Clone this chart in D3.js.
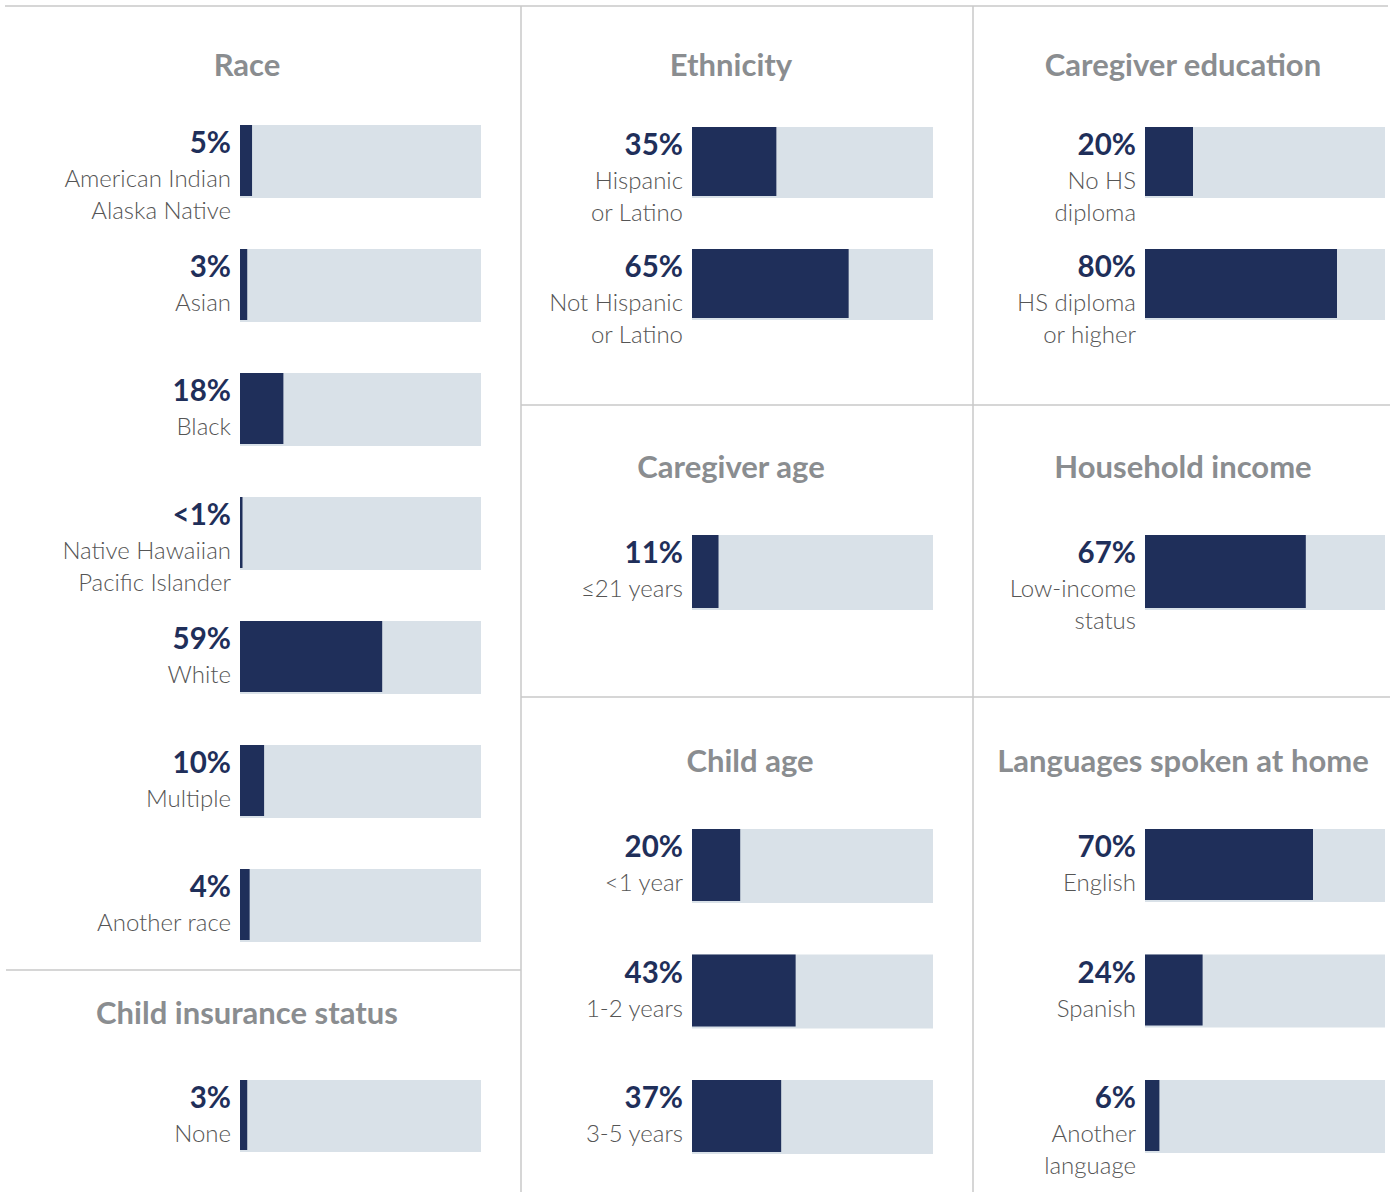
<!DOCTYPE html>
<html>
<head>
<meta charset="utf-8">
<script src="https://cdn.jsdelivr.net/npm/d3@7"></script>
<style>
  html, body { margin: 0; padding: 0; background: #fff; }
  svg { display: block; font-family: Lato, "Open Sans", sans-serif; }
  .title { fill: #8a8d90; font-size: 31px; font-weight: 700; text-anchor: middle; }
  .value { fill: #1f2f5a; font-size: 29.5px; font-weight: 700; text-anchor: end; }
  .label { fill: #555; font-size: 24px; font-weight: 300; text-anchor: end; }
  .track { fill: #d9e1e8; }
  .bar { fill: #1f2f5a; }
  .rule { stroke: #c8c8c8; stroke-width: 1.5; }
</style>
</head>
<body>
<svg width="1391" height="1192"></svg>
<script>
// --- Data: one set of arrays per panel ---
const raceCats = ["American Indian|Alaska Native", "Asian", "Black", "Native Hawaiian|Pacific Islander", "White", "Multiple", "Another race"];
const raceVals = [5, 3, 18, 0.8, 59, 10, 4];

const ethnicityCats = ["Hispanic|or Latino", "Not Hispanic|or Latino"];
const ethnicityVals = [35, 65];

const educationCats = ["No HS|diploma", "HS diploma|or higher"];
const educationVals = [20, 80];

const cgAgeCats = ["≤21 years"];
const cgAgeVals = [11];

const incomeCats = ["Low-income|status"];
const incomeVals = [67];

const childAgeCats = ["<1 year", "1-2 years", "3-5 years"];
const childAgeVals = [20, 43, 37];

const languageCats = ["English", "Spanish", "Another|language"];
const languageVals = [70, 24, 6];

const insuranceCats = ["None"];
const insuranceVals = [3];

// --- Layout (positions only, kept apart from the data) ---
const COLS = {
  left:  { bar0: 240, bar1: 481, titleX: 247 },
  mid:   { bar0: 692, bar1: 933, titleX: 731 },
  right: { bar0: 1145, bar1: 1385, titleX: 1183 }
};

const panels = [
  { title: "Race", cats: raceCats, vals: raceVals, col: "left", titleY: 76, top: 125, step: 124, h: 73 },
  { title: "Ethnicity", cats: ethnicityCats, vals: ethnicityVals, col: "mid", titleY: 76, top: 127, step: 122, h: 71 },
  { title: "Caregiver education", cats: educationCats, vals: educationVals, col: "right", titleY: 76, top: 127, step: 122, h: 71 },
  { title: "Caregiver age", cats: cgAgeCats, vals: cgAgeVals, col: "mid", titleY: 478, top: 535, step: 122, h: 75 },
  { title: "Household income", cats: incomeCats, vals: incomeVals, col: "right", titleY: 478, top: 535, step: 122, h: 75 },
  { title: "Child age", cats: childAgeCats, vals: childAgeVals, col: "mid", titleY: 772, top: 829, step: 125.5, h: 74, titleDx: 19 },
  { title: "Languages spoken at home", cats: languageCats, vals: languageVals, col: "right", titleY: 772, top: 829, step: 125.5, h: 73 },
  { title: "Child insurance status", cats: insuranceCats, vals: insuranceVals, col: "left", titleY: 1024, top: 1080, step: 122, h: 72 }
];

const rules = [
  [5, 6, 1388, 6],
  [521, 6, 521, 1192],
  [973, 6, 973, 1192],
  [521, 405, 1390, 405],
  [521, 697, 1390, 697],
  [6, 970, 521, 970]
];

const svg = d3.select("svg");

// --- Divider lines ---
svg.append("g").selectAll("line")
  .data(rules)
  .join("line")
  .attr("class", "rule")
  .attr("x1", d => d[0]).attr("y1", d => d[1])
  .attr("x2", d => d[2]).attr("y2", d => d[3]);

const fmt = v => v < 1 ? "<1%" : `${v}%`;

// --- Panels ---
panels.forEach(p => {
  const col = COLS[p.col];
  const n = p.cats.length;
  const x = d3.scaleLinear().domain([0, 100]).range([col.bar0, col.bar1]);
  // band scale: rows p.step apart, each p.h tall
  const y = d3.scaleBand()
    .domain(p.cats)
    .range([p.top, p.top + (n - 1) * p.step + p.h])
    .paddingInner(n > 1 ? 1 - p.h / p.step : 0)
    .paddingOuter(0);

  const g = svg.append("g");

  g.append("text")
    .attr("class", "title")
    .attr("x", col.titleX + (p.titleDx || 0))
    .attr("y", p.titleY)
    .text(p.title);

  const rows = p.cats.map((c, i) => ({ cat: c, val: p.vals[i] }));

  const row = g.selectAll(".row")
    .data(rows)
    .join("g")
    .attr("class", "row");

  row.append("rect")
    .attr("class", "track")
    .attr("x", x(0))
    .attr("y", d => y(d.cat))
    .attr("width", x(100) - x(0))
    .attr("height", y.bandwidth());

  row.append("rect")
    .attr("class", "bar")
    .attr("x", x(0))
    .attr("y", d => y(d.cat))
    .attr("width", d => Math.max(2.5, x(d.val) - x(0)))
    .attr("height", y.bandwidth() - 2);

  row.append("text")
    .attr("class", "value")
    .attr("x", x(0) - 9)
    .attr("y", d => y(d.cat) + 28)
    .text(d => fmt(d.val));

  row.append("text")
    .attr("class", "label")
    .attr("x", x(0) - 9)
    .attr("y", d => y(d.cat) + 62)
    .selectAll("tspan")
    .data(d => d.cat.split("|"))
    .join("tspan")
    .attr("x", x(0) - 9)
    .attr("dy", (d, i) => i === 0 ? 0 : 32)
    .text(d => d);
});
</script>
</body>
</html>
